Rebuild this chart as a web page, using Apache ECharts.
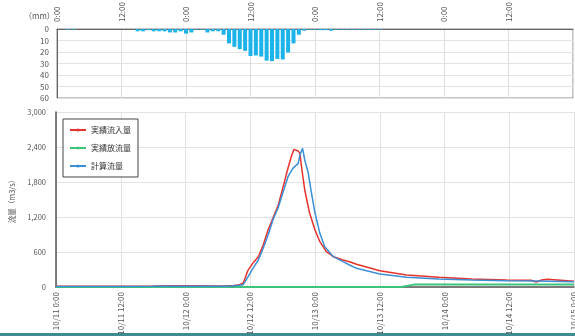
<!DOCTYPE html>
<html><head><meta charset="utf-8">
<script src="https://cdn.jsdelivr.net/npm/echarts@6/dist/echarts.min.js"></script>
<style>html,body{margin:0;padding:0;background:#fff}#c{width:575px;height:336px}</style>
</head><body><div id="c"></div>
<script>
// ---- data ----
var topTickLabels = ["0:00","12:00","0:00","12:00","0:00","12:00","0:00","12:00","0:00"];
var bottomTickLabels = ["10/11 0:00","10/11 12:00","10/12 0:00","10/12 12:00","10/13 0:00","10/13 12:00","10/14 0:00","10/14 12:00","10/15 0:00"];
var rainH = [2,3,15,16,17,18,19,20,21,22,23,24,25,26,27,28,29,30,31,32,33,34,35,36,37,38,39,40,41,42,43,44,45,46,47,48,49,50,51,52,53,54,55,56,57,58,59,60];
var rainV = [0.5,0.5,2,2,1,2,2,2,3,3,2,4,3,0.5,0.5,3,2,2,5,12.5,15.5,17.5,19,23.5,23,24,27.5,28,26,26.5,20.5,12.5,5,1.5,0.5,0.5,1,1,1.5,0.5,0.5,0.5,0.5,0.5,0.5,0.5,0.5,0.5];
var redH = [0,6,12,18,22,26,30,32,33,34,34.7,35.6,36.5,37.5,38.4,39.3,40.2,41.2,42.1,43,43.6,44.1,44.8,45.2,45.5,46.1,47,48,48.9,50.1,51.4,53.2,54.4,55.7,60,65,71,77,83.5,88,89,90,91,96];
var redV = [15,15,15,18,22,20,18,20,25,40,70,290,410,520,720,977,1180,1405,1720,2040,2234,2360,2337,2297,2062,1663,1268,977,777,605,520,463,434,390,280,206,166,137,120,115,86,120,131,100];
var greenH = [0,64,66.5,96];
var greenV = [0,0,45,45];
var blueH = [0,6,12,18,22,26,30,32,33,34,34.7,35.6,36.5,37.5,38.4,39.3,40.2,41.2,42.1,43,43.9,44.9,45.2,45.7,46.1,46.7,47.3,48,48.9,49.8,51.4,53.2,54.4,55.7,60,65,71,77,83.5,89,96];
var blueV = [10,10,10,12,15,15,15,15,20,30,40,177,320,463,663,891,1148,1366,1634,1891,2034,2120,2263,2377,2177,1977,1634,1268,920,691,520,434,377,320,223,166,137,120,108,103,91];
var seriesNames = ["実績流入量","実績放流量","計算流量"];

function zip(a,b){return a.map(function(x,i){return [x,b[i]];});}
var FONT = '"Noto Sans CJK JP", "Noto Sans", sans-serif';
var chart = echarts.init(document.getElementById('c'));
chart.setOption({
  animation:false,
  backgroundColor:'#fff',
  textStyle:{fontFamily:FONT},
  grid:[
    {left:57,right:2,top:29,height:69,show:true,borderColor:'#888',borderWidth:1,outerBoundsMode:'none',containLabel:false},
    {left:56,right:1,top:112,height:175,outerBoundsMode:'none',containLabel:false}
  ],
  legend:{
    orient:'vertical',left:63,top:119,data:seriesNames,
    backgroundColor:'#fff',borderColor:'#444',borderWidth:1,
    padding:[7,7,7,6],itemGap:10,itemWidth:16,itemHeight:4,
    textStyle:{fontSize:8,color:'#333',fontFamily:FONT}
  },
  xAxis:[
    {gridIndex:0,type:'value',min:0,max:96,interval:12,position:'top',
     axisLine:{show:true,lineStyle:{color:'#666'}},axisTick:{show:false},
     splitLine:{show:true,lineStyle:{color:'#ddd'}},
     axisLabel:{rotate:90,fontSize:8,color:'#555',margin:7,showMaxLabel:false,
       formatter:function(v){return topTickLabels[Math.round(v/12)];}}},
    {gridIndex:1,type:'value',min:0,max:96,interval:12,
     axisLine:{show:true,lineStyle:{color:'#555',width:1.5}},axisTick:{show:false},
     splitLine:{show:true,lineStyle:{color:'#e3e3e3'}},
     axisLabel:{rotate:90,fontSize:8,color:'#555',margin:5,
       formatter:function(v){return bottomTickLabels[Math.round(v/12)];}}}
  ],
  yAxis:[
    {gridIndex:0,type:'value',inverse:true,min:0,max:60,interval:10,
     axisLine:{show:true,lineStyle:{color:'#666'}},axisTick:{show:false},
     splitLine:{lineStyle:{color:'#e3e3e3'}},
     axisLabel:{fontSize:8,color:'#555',margin:8}},
    {gridIndex:1,type:'value',min:0,max:3000,interval:600,
     axisLine:{show:true,lineStyle:{color:'#555',width:1.5}},axisTick:{show:false},
     splitLine:{lineStyle:{color:'#e3e3e3'}},
     name:'流量（m3/s）',nameLocation:'middle',nameRotate:90,nameGap:36,
     nameTextStyle:{fontSize:7.5,color:'#555',fontFamily:FONT},
     axisLabel:{fontSize:7.5,color:'#555',margin:10,
       formatter:function(v){return v.toLocaleString('en-US');}}}
  ],
  graphic:[
    {type:'text',left:24,top:12,style:{text:'（mm）',fontSize:8,fill:'#555',fontFamily:FONT}},
    {type:'rect',shape:{x:0,y:333,width:575,height:3},style:{fill:'#3d8c8f'}}
  ],
  series:[
    {type:'bar',xAxisIndex:0,yAxisIndex:0,data:zip(rainH,rainV),barWidth:4,
     itemStyle:{color:'#1cb2ea'}},
    {name:seriesNames[0],type:'line',xAxisIndex:1,yAxisIndex:1,data:zip(redH,redV),
     symbol:'none',lineStyle:{color:'#e8322c',width:1.5},itemStyle:{color:'#e8322c'},z:3},
    {name:seriesNames[1],type:'line',xAxisIndex:1,yAxisIndex:1,data:zip(greenH,greenV),
     symbol:'none',lineStyle:{color:'#3cc47c',width:2},itemStyle:{color:'#3cc47c'},z:2},
    {name:seriesNames[2],type:'line',xAxisIndex:1,yAxisIndex:1,data:zip(blueH,blueV),
     symbol:'none',lineStyle:{color:'#3a8fd6',width:1.5},itemStyle:{color:'#3a8fd6'},z:4}
  ]
});
</script></body></html>
